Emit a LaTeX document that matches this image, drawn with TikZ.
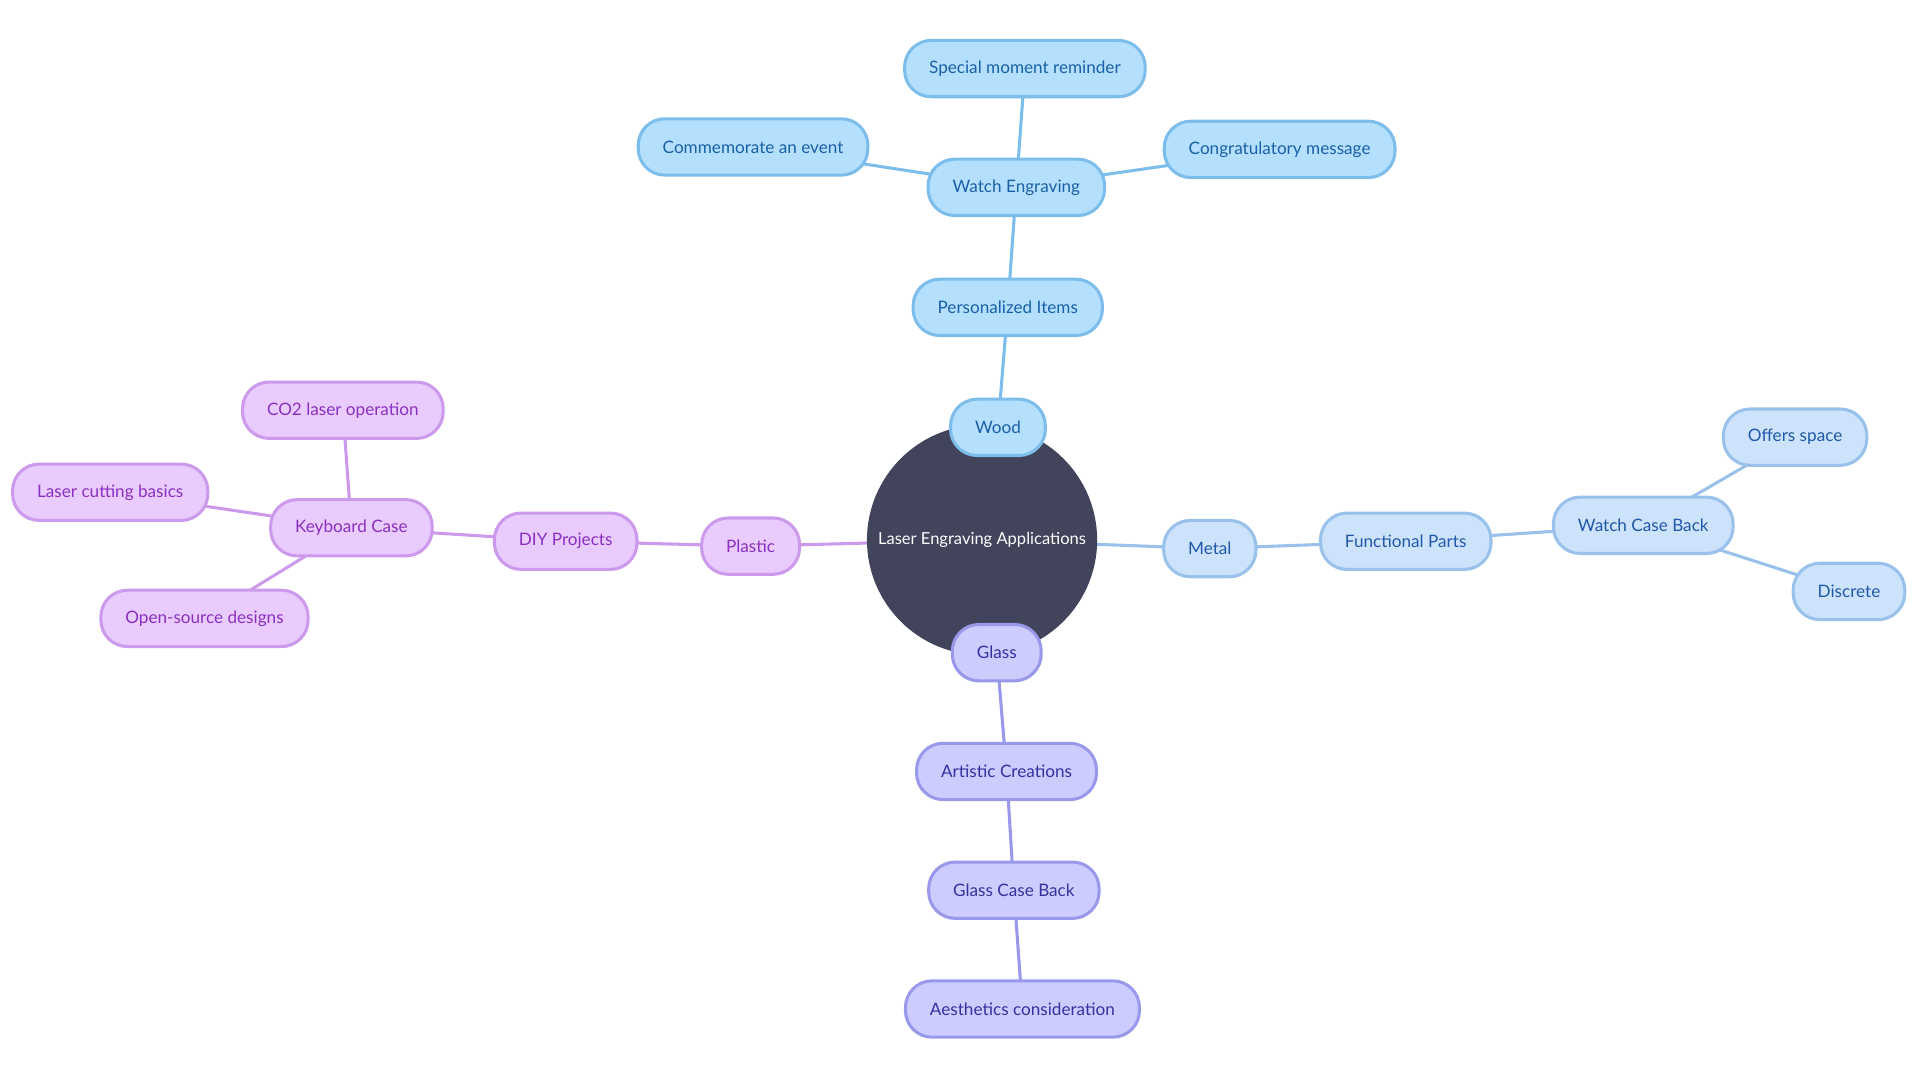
\documentclass[tikz,border=0pt]{standalone}
\usepackage{fontspec}
\setmainfont{Lato}
\usetikzlibrary{backgrounds}
\definecolor{woodfill}{RGB}{180,224,254}
\definecolor{woodline}{RGB}{125,189,235}
\definecolor{woodtext}{RGB}{26,96,166}
\definecolor{metalfill}{RGB}{205,227,251}
\definecolor{metalline}{RGB}{153,193,235}
\definecolor{metaltext}{RGB}{32,88,170}
\definecolor{glassfill}{RGB}{204,204,255}
\definecolor{glassline}{RGB}{153,153,236}
\definecolor{glasstext}{RGB}{52,50,160}
\definecolor{plasticfill}{RGB}{233,204,253}
\definecolor{plasticline}{RGB}{204,153,236}
\definecolor{plastictext}{RGB}{138,47,192}
\definecolor{rootfill}{RGB}{66,68,92}
\begin{document}
\begin{tikzpicture}[x=0.6pt,y=-0.6pt,
		leaf/.style={draw,line width=1.5pt,rounded corners=13pt,minimum height=27.6pt,inner xsep=12pt,font=\fontsize{8.4}{10}\selectfont},
		wood/.style={leaf,fill=woodfill,draw=woodline,text=woodtext},
		metal/.style={leaf,fill=metalfill,draw=metalline,text=metaltext},
		glass/.style={leaf,fill=glassfill,draw=glassline,text=glasstext},
		plastic/.style={leaf,fill=plasticfill,draw=plasticline,text=plastictext},
		branch/.style={line width=1.5pt}]
	\useasboundingbox (0,0) rectangle (1568,882);
	% Mitte
	\node[circle,fill=rootfill,text=white,minimum size=112.8pt,inner sep=0pt,font=\fontsize{8.1}{10}\selectfont] (root) at (802,441) {Laser Engraving Applications};
	% Holz
	\node[wood] (wood) at (815,349) {Wood};
	\node[wood] (personal) at (823,251) {Personalized Items};
	\node[wood] (watch) at (830,153) {Watch Engraving};
	\node[wood] (moment) at (837,56) {Special moment reminder};
	\node[wood] (event) at (615,120) {Commemorate an event};
	\node[wood] (congrats) at (1045,122) {Congratulatory message};
	% Metall
	\node[metal] (metal) at (988,448) {Metal};
	\node[metal] (functional) at (1148,442) {Functional Parts};
	\node[metal] (caseback) at (1342,429) {Watch Case Back};
	\node[metal] (space) at (1466,357) {Offers space};
	\node[metal] (discrete) at (1510,483) {Discrete};
	% Glas
	\node[glass] (glass) at (814,533) {Glass};
	\node[glass] (artistic) at (822,630) {Artistic Creations};
	\node[glass] (glassback) at (828,727) {Glass Case Back};
	\node[glass] (aesthetics) at (835,824) {Aesthetics consideration};
	% Kunststoff
	\node[plastic] (plastic) at (613,446) {Plastic};
	\node[plastic] (diy) at (462,442) {DIY Projects};
	\node[plastic] (keyboard) at (287,431) {Keyboard Case};
	\node[plastic] (co2) at (280,335) {CO2 laser operation};
	\node[plastic] (cutting) at (90,402) {Laser cutting basics};
	\node[plastic] (opensource) at (167,505) {Open-source designs};
	\begin{scope}[on background layer]
		\draw[branch,woodline] (root.center) -- (wood.center) -- (personal.center) -- (watch.center) -- (moment.center);
		\draw[branch,woodline] (watch.center) -- (event.center);
		\draw[branch,woodline] (watch.center) -- (congrats.center);
		\draw[branch,metalline] (root.center) -- (metal.center) -- (functional.center) -- (caseback.center) -- (space.center);
		\draw[branch,metalline] (caseback.center) -- (discrete.center);
		\draw[branch,glassline] (root.center) -- (glass.center) -- (artistic.center) -- (glassback.center) -- (aesthetics.center);
		\draw[branch,plasticline] (root.center) -- (plastic.center) -- (diy.center) -- (keyboard.center) -- (co2.center);
		\draw[branch,plasticline] (keyboard.center) -- (cutting.center);
		\draw[branch,plasticline] (keyboard.center) -- (opensource.center);
	\end{scope}
\end{tikzpicture}
\end{document}
